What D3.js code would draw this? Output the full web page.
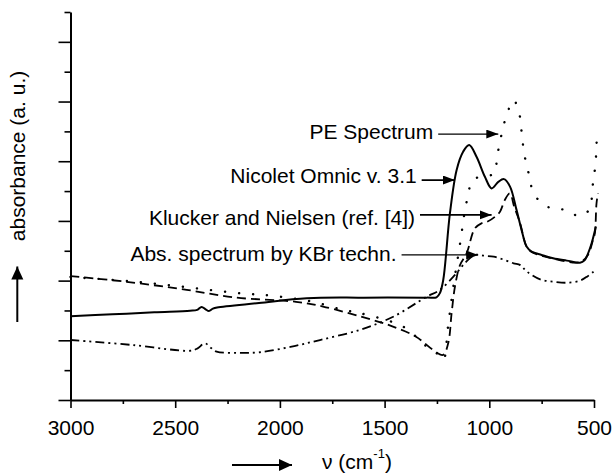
<!DOCTYPE html>
<html>
<head>
<meta charset="utf-8">
<script src="https://cdn.jsdelivr.net/npm/d3@7"></script>
<style>
  html, body { margin: 0; padding: 0; background: #fff; }
  svg { display: block; }
  text { font-family: "Liberation Sans", Arial, sans-serif; fill: #000; }
</style>
</head>
<body>
<svg id="chart" width="614" height="475"></svg>
<script>
// ---------------- data ----------------
const xMajorTicks = [3000, 2500, 2000, 1500, 1000, 500];
const xMinorTicks = [2750, 2250, 1750, 1250, 750];
const yMajorTicks = [0, 2, 4, 6, 8, 10, 12];
const yMinorTicks = [1, 3, 5, 7, 9, 11, 13];

// Nicolet Omnic v. 3.1 (solid)
const nicoletWn  = [3000, 2800, 2600, 2429, 2395, 2374, 2355, 2339, 2320, 2300, 2100, 1872, 1600, 1299, 1252, 1236, 1220, 1188, 1156, 1125, 1096, 1061, 1021, 989, 957, 930, 901, 870, 846, 822, 798, 750, 695, 630, 567, 545, 535, 511, 491];
const nicoletAbs = [2.81, 2.87, 2.94, 2.99, 3.02, 3.12, 3.04, 2.98, 3.06, 3.10, 3.25, 3.41, 3.43, 3.43, 3.44, 3.58, 4.02, 6.26, 7.71, 8.32, 8.54, 8.15, 7.48, 7.09, 7.31, 7.40, 7.15, 6.37, 5.70, 5.14, 4.97, 4.86, 4.75, 4.67, 4.60, 4.68, 4.80, 5.26, 5.81];

// PE Spectrum (dotted)
const peWn  = [3000, 2668, 2183, 2047, 1842, 1699, 1618, 1412, 1299, 1252, 1220, 1198, 1174, 1137, 1116, 1102, 1080, 1026, 975, 964, 951, 935, 916, 884, 857, 848, 840, 829, 812, 797, 765, 704, 634, 569, 518, 510, 502, 492, 489, 483];
const peAbs = [4.12, 3.95, 3.57, 3.50, 3.29, 3.02, 2.91, 2.46, 1.79, 1.57, 1.34, 2.41, 3.69, 5.36, 6.37, 6.83, 7.37, 7.50, 7.59, 8.10, 8.58, 9.10, 9.57, 10.05, 9.60, 9.12, 8.60, 8.10, 7.59, 7.11, 6.70, 6.42, 6.37, 6.16, 6.42, 6.94, 7.43, 7.93, 8.49, 8.95];

// Klucker and Nielsen (ref. [4]) (dashed)
const kluckerWn  = [3000, 2732, 2445, 2223, 1923, 1794, 1556, 1460, 1350, 1269, 1221, 1196, 1180, 1164, 1140, 1108, 1069, 1037, 1011, 973, 949, 926, 902, 880, 854, 822, 798, 696, 567, 529, 505, 496, 488, 481];
const kluckerAbs = [4.15, 3.96, 3.69, 3.44, 3.29, 3.13, 2.68, 2.46, 2.12, 1.68, 1.51, 1.91, 2.91, 3.80, 4.52, 4.92, 5.75, 5.92, 5.97, 6.14, 6.31, 6.70, 6.92, 6.45, 5.95, 5.14, 4.96, 4.74, 4.62, 4.86, 5.36, 5.58, 6.59, 6.93];

// Abs. spectrum by KBr techn. (dash-dot-dot)
const kbrWn  = [3000, 2700, 2429, 2395, 2358, 2330, 2302, 2200, 2095, 1950, 1809, 1618, 1459, 1299, 1236, 1164, 1112, 1069, 1020, 979, 930, 884, 852, 820, 757, 690, 629, 566, 530, 502, 486];
const kbrAbs = [2.01, 1.84, 1.65, 1.72, 1.90, 1.75, 1.62, 1.58, 1.60, 1.78, 2.01, 2.35, 2.79, 3.46, 3.69, 4.19, 4.62, 4.86, 4.83, 4.80, 4.70, 4.58, 4.52, 4.30, 4.04, 3.96, 3.93, 4.00, 4.15, 4.30, 4.38];

// annotation texts and the point (wavenumber, absorbance) each arrow points to
const annLabels = ["PE Spectrum", "Nicolet Omnic v. 3.1", "Klucker and Nielsen (ref. [4])", "Abs. spectrum by KBr techn."];
const annTipWn  = [957, 1164, 989, 1053];
const annTipAbs = [8.91, 7.37, 6.20, 4.86];
const annTailWn = [1244, 1323, 1331, 1419];

// ---------------- layout ----------------
const svg = d3.select("#chart");
const x = d3.scaleLinear().domain([3000, 500]).range([70.5, 594]);
const y = d3.scaleLinear().domain([0, 13]).range([400, 12]);

// arrow markers
const defs = svg.append("defs");
defs.append("marker")
  .attr("id", "head").attr("markerUnits", "userSpaceOnUse")
  .attr("markerWidth", 13).attr("markerHeight", 10)
  .attr("refX", 12).attr("refY", 4.5).attr("orient", "auto")
  .append("path").attr("d", "M0,0 L12,4.5 L0,9 Z").attr("fill", "#000");
defs.append("marker")
  .attr("id", "bighead").attr("markerUnits", "userSpaceOnUse")
  .attr("markerWidth", 14).attr("markerHeight", 14)
  .attr("refX", 13).attr("refY", 6).attr("orient", "auto")
  .append("path").attr("d", "M0,0 L13,6 L0,12 Z").attr("fill", "#000");

// axes
const gx = svg.append("g").attr("transform", "translate(0,400)");
gx.call(d3.axisBottom(x).tickValues(xMinorTicks).tickSize(4).tickSizeOuter(0).tickFormat(""));
gx.call(g => g.select(".domain").remove());
const gx2 = svg.append("g").attr("transform", "translate(0,400)");
gx2.call(d3.axisBottom(x).tickValues(xMajorTicks).tickSize(8).tickSizeOuter(0).tickFormat(d3.format("d")));
gx2.selectAll("text").attr("dy", null).attr("y", 35).style("font-size", "21px");

const gy = svg.append("g").attr("transform", "translate(70.5,0)");
gy.call(d3.axisLeft(y).tickValues(yMinorTicks).tickSize(6).tickSizeOuter(0).tickFormat(""));
gy.call(g => g.select(".domain").remove());
const gy2 = svg.append("g").attr("transform", "translate(70.5,0)");
gy2.call(d3.axisLeft(y).tickValues(yMajorTicks).tickSize(12).tickSizeOuter(0).tickFormat(""));

svg.selectAll(".domain").attr("stroke", "#000").attr("stroke-width", 2);
svg.selectAll(".tick line").attr("stroke", "#000").attr("stroke-width", 1.6);

// series
const line = d3.line().x(d => x(d[0])).y(d => y(d[1])).curve(d3.curveCatmullRom.alpha(0.5));
function series(wn, ab) { return wn.map((w, i) => [w, ab[i]]); }

svg.append("path").datum(series(kbrWn, kbrAbs))
  .attr("d", line).attr("fill", "none").attr("stroke", "#000")
  .attr("stroke-width", 1.8).attr("stroke-dasharray", "9 4 2 4 2 4");
svg.append("path").datum(series(kluckerWn, kluckerAbs))
  .attr("d", line).attr("fill", "none").attr("stroke", "#000")
  .attr("stroke-width", 1.8).attr("stroke-dasharray", "9 5");
svg.append("path").datum(series(peWn, peAbs))
  .attr("d", line).attr("fill", "none").attr("stroke", "#000")
  .attr("stroke-width", 2.4).attr("stroke-linecap", "round").attr("stroke-dasharray", "0.1 14");
svg.append("path").datum(series(nicoletWn, nicoletAbs))
  .attr("d", line).attr("fill", "none").attr("stroke", "#000")
  .attr("stroke-width", 2);

// annotations
const annTextGap = 5;
const annBaselineOffset = [4.5, 2.5, 10, 6.5];
const annStroke = [1.2, 1.8, 1.8, 1.2];
annLabels.forEach((lab, i) => {
  const yt = y(annTipAbs[i]);
  const x0 = x(annTailWn[i]);
  svg.append("line")
    .attr("x1", x0).attr("y1", yt).attr("x2", x(annTipWn[i])).attr("y2", yt)
    .attr("stroke", "#000").attr("stroke-width", annStroke[i]).attr("marker-end", "url(#head)");
  svg.append("text").attr("x", x0 - annTextGap).attr("y", yt + annBaselineOffset[i])
    .attr("text-anchor", "end").style("font-size", "21px").text(lab);
});

// y title + arrow
svg.append("text").attr("transform", "translate(25,156) rotate(-90)")
  .attr("text-anchor", "middle").style("font-size", "21px").text("absorbance (a. u.)");
svg.append("line").attr("x1", 17.3).attr("y1", 322).attr("x2", 17.3).attr("y2", 266.5)
  .attr("stroke", "#000").attr("stroke-width", 2).attr("marker-end", "url(#bighead)");

// x title + arrow
svg.append("line").attr("x1", 232).attr("y1", 465).attr("x2", 292).attr("y2", 465)
  .attr("stroke", "#000").attr("stroke-width", 2).attr("marker-end", "url(#bighead)");
const xt = svg.append("text").attr("x", 322).attr("y", 469).style("font-size", "21px");
xt.append("tspan").text("ν (cm");
xt.append("tspan").attr("dy", -11).style("font-size", "13px").text("-1");
xt.append("tspan").attr("dy", 11).text(")");
</script>
</body>
</html>
